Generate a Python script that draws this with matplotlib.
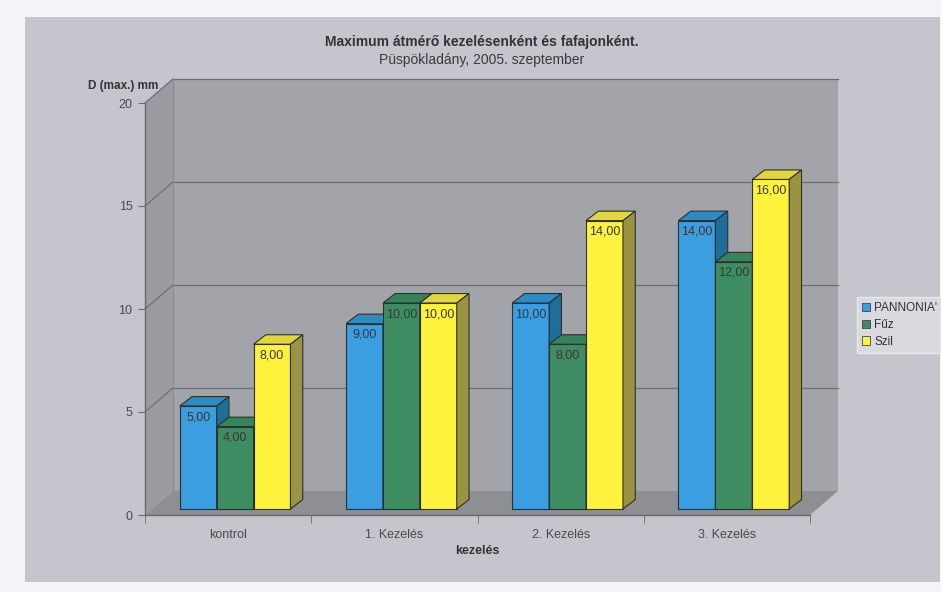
import matplotlib
matplotlib.use("Agg")
import matplotlib.pyplot as plt
from matplotlib.patches import Polygon, Rectangle, Patch

plt.rcParams['font.family'] = ['Liberation Sans', 'DejaVu Sans']

# data
categories = ["kontrol", "1. Kezelés", "2. Kezelés", "3. Kezelés"]
series_names = ["PANNONIA'", "Fűz", "Szil"]
pannonia = [5, 9, 10, 14]
fuz = [4, 10, 8, 12]
szil = [8, 10, 14, 16]
y_ticks = [0, 5, 10, 15, 20]

# colours per series: front, top, side
front_cols = ["#3b9ee0", "#3e8c62", "#fff23c"]
top_cols = ["#2c8cc4", "#35845a", "#e3d63c"]
side_cols = ["#1d6f99", "#2b6a48", "#9a9442"]

W, H = 941, 592
fig = plt.figure(figsize=(W / 100, H / 100), dpi=100, facecolor="#f4f4f8")

# grey chart panel
fig.patches.append(Rectangle((25 / W, 1 - 582 / H), 915 / W, 565 / H,
                             transform=fig.transFigure, facecolor="#c5c6cd",
                             edgecolor="none", zorder=-10))

ax = fig.add_axes([145 / W, 77 / H, 665 / W, 412 / H])
ax.set_zorder(1)
ax.set_xlim(-0.5, len(categories) - 0.5)
ax.set_ylim(0, 20)
ax.patch.set_alpha(0)
for s in ax.spines.values():
    s.set_visible(False)

# 3D depth offsets (data units)
dxw, dyw = 0.168, 1.165     # wall depth
bx0, by0 = 0.042, 0.29      # bar front offset
bdx, bdy = 0.074, 0.46      # bar depth
bw = 0.222                  # bar width

x0, x1 = -0.5, len(categories) - 0.5
ymax = y_ticks[-1]

# back wall, side wall, floor
ax.add_patch(Polygon([(x0 + dxw, dyw), (x1 + dxw, dyw), (x1 + dxw, ymax + dyw),
                      (x0 + dxw, ymax + dyw)], closed=True, facecolor="#a3a4a9",
                     edgecolor="none", clip_on=False, zorder=1))
ax.add_patch(Polygon([(x0, 0), (x0 + dxw, dyw), (x0 + dxw, ymax + dyw), (x0, ymax)],
                     closed=True, facecolor="#9b9ca1", edgecolor="none",
                     clip_on=False, zorder=1))
ax.add_patch(Polygon([(x0, 0), (x1, 0), (x1 + dxw, dyw), (x0 + dxw, dyw)],
                     closed=True, facecolor="#8e8f93", edgecolor="none",
                     clip_on=False, zorder=1))

# gridlines on walls
for v in y_ticks[1:]:
    ax.plot([x0 + dxw, x1 + dxw], [v + dyw, v + dyw], color="#6e6f74", lw=0.9,
            clip_on=False, zorder=2)
    ax.plot([x0, x0 + dxw], [v, v + dyw], color="#6e6f74", lw=0.9,
            clip_on=False, zorder=2)
ax.plot([x0 + dxw, x0 + dxw], [dyw, ymax + dyw], color="#8a8b90", lw=0.8,
        clip_on=False, zorder=2)

# front axis lines
ax.plot([x0, x0], [0, ymax], color="#6a6a6e", lw=1.0, clip_on=False, zorder=2)
ax.plot([x0, x1], [0, 0], color="#6a6a6e", lw=1.0, clip_on=False, zorder=2)

# bars
all_series = [pannonia, fuz, szil]
z = 3
for ci in range(len(categories)):
    for si, vals in enumerate(all_series):
        v = vals[ci]
        xl = ci + (si - 1.5) * bw + bx0
        xr = xl + bw
        yb = by0
        yt = v + by0
        # front
        ax.add_patch(Polygon([(xl, yb), (xr, yb), (xr, yt), (xl, yt)], closed=True,
                             facecolor=front_cols[si], edgecolor="#2e2e2e", lw=0.8,
                             clip_on=False, zorder=z))
        # top
        ax.add_patch(Polygon([(xl, yt), (xr, yt), (xr + bdx, yt + bdy), (xl + bdx, yt + bdy)],
                             closed=True, facecolor=top_cols[si], edgecolor="#2e2e2e",
                             lw=0.8, clip_on=False, zorder=z))
        # side
        ax.add_patch(Polygon([(xr, yb), (xr + bdx, yb + bdy), (xr + bdx, yt + bdy), (xr, yt)],
                             closed=True, facecolor=side_cols[si], edgecolor="#2e2e2e",
                             lw=0.8, clip_on=False, zorder=z))
        ax.annotate(f"{v:.2f}".replace(".", ","), xy=((xl + xr) / 2, yt),
                    xytext=(0, -8), textcoords="offset points", ha="center",
                    va="center", fontsize=9, color="#383838", zorder=z + 1,
                    annotation_clip=False)
        z += 1

# ticks
ax.set_yticks(y_ticks)
ax.set_yticklabels([str(t) for t in y_ticks], fontsize=9, color="#4a4a4a")
ax.set_xticks(range(len(categories)))
ax.set_xticklabels(categories, fontsize=9, color="#4a4a4a")
ax.set_xticks([i - 0.5 for i in range(len(categories) + 1)], minor=True)
ax.tick_params(axis="x", which="major", length=0, pad=10)
ax.tick_params(axis="x", which="minor", length=6, color="#6a6a6e", direction="out")
ax.tick_params(axis="y", length=5, color="#6a6a6e", pad=4)

ax.set_xlabel("kezelés", fontsize=9, fontweight="bold", color="#333333", labelpad=3)

fig.text(158 / W, 1 - 86 / H, "D (max.) mm", ha="right", va="center", fontsize=8.5,
         fontweight="bold", color="#333333")

fig.text(482 / W, 1 - 42 / H, "Maximum átmérő kezelésenként és fafajonként.",
         ha="center", va="center", fontsize=10, fontweight="bold", color="#333333")
fig.text(482 / W, 1 - 60 / H, "Püspökladány, 2005. szeptember",
         ha="center", va="center", fontsize=10, color="#3a3a3a")

handles = [Patch(facecolor=front_cols[i], edgecolor="#444444", lw=0.6)
           for i in range(len(series_names))]
leg = fig.legend(handles, series_names, loc="upper left",
                 bbox_to_anchor=(851 / W, 1 - 291 / H), fontsize=8.5,
                 frameon=True, fancybox=False, handlelength=0.7, handleheight=0.7,
                 handletextpad=0.3, borderpad=0.45, labelspacing=0.4)
leg.get_frame().set_facecolor("#dfe0e5")
leg.get_frame().set_edgecolor("#eeeef2")
for t in leg.get_texts():
    t.set_color("#333333")

fig.savefig("out.png", dpi=100, facecolor=fig.get_facecolor())
